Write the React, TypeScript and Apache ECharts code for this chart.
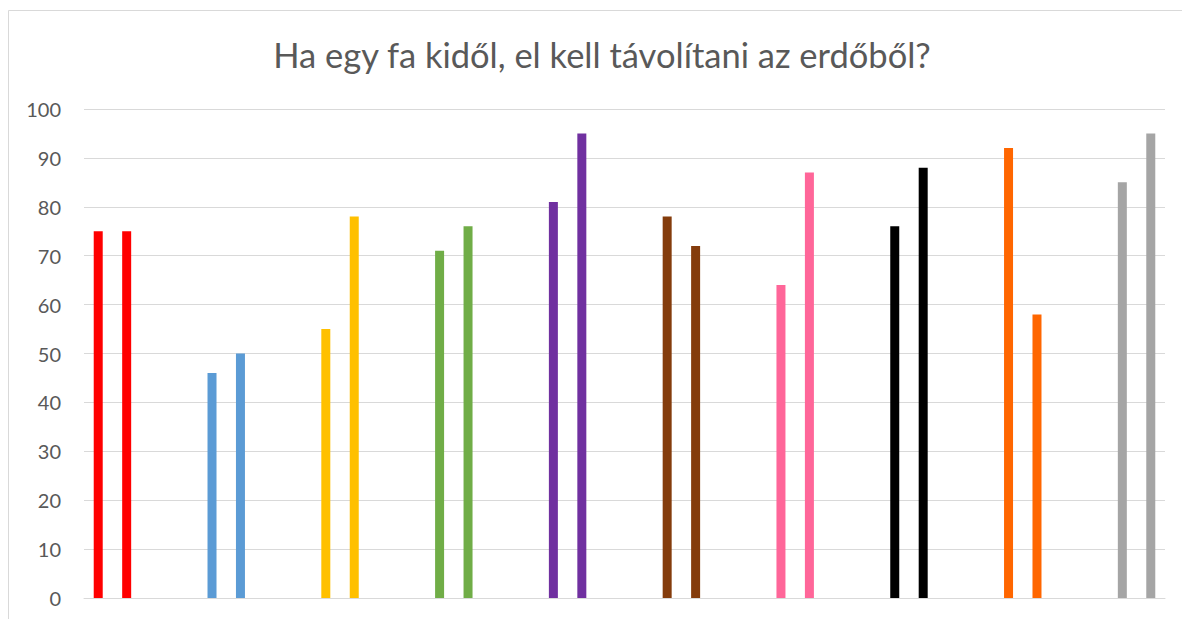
import React, { useEffect, useRef } from "react";
import * as echarts from "echarts";

const title = "Ha egy fa kidől, el kell távolítani az erdőből?";
const groupColors = ["#FF0000", "#5B9BD5", "#FFC000", "#70AD47", "#7030A0", "#843C0C", "#FF6699", "#000000", "#FF6600", "#A5A5A5"];
const firstValues = [75, 46, 55, 71, 81, 78, 64, 76, 92, 85];
const secondValues = [75, 50, 78, 76, 95, 72, 87, 88, 58, 95];
const yTicks = [0, 10, 20, 30, 40, 50, 60, 70, 80, 90, 100];

export default function App() {
  const ref = useRef<HTMLDivElement>(null);
  useEffect(() => {
    if (!ref.current) return;
    const chart = echarts.init(ref.current, undefined, { renderer: "svg" });
    // Excel layout: each group uses 4 slots (2 bars + 2 empty), last group without trailing blanks
    const slots: any[] = [];
    firstValues.forEach((v, i) => {
      slots.push({ value: v, itemStyle: { color: groupColors[i] } });
      slots.push({ value: secondValues[i], itemStyle: { color: groupColors[i] } });
      if (i < firstValues.length - 1) {
        slots.push(null);
        slots.push(null);
      }
    });
    const cats = slots.map((_, i) => String(i));
    chart.setOption({
      animation: false,
      backgroundColor: "#FFFFFF",
      graphic: [
        {
          type: "line",
          shape: { x1: 0.5, y1: 2.5, x2: 1174, y2: 2.5 },
          style: { stroke: "#D9D9D9", lineWidth: 1 },
          silent: true,
        },
        {
          type: "line",
          shape: { x1: 0.5, y1: 2.5, x2: 0.5, y2: 611 },
          style: { stroke: "#D9D9D9", lineWidth: 1 },
          silent: true,
        },
        {
          type: "text",
          x: 594,
          y: 46,
          style: {
            text: title,
            fill: "#595959",
            font: "34.5px Lato",
            textAlign: "center",
            textVerticalAlign: "middle",
          },
          silent: true,
        },
      ],
      grid: { left: 76, right: 17, top: 101, bottom: 21, containLabel: false },
      xAxis: {
        type: "category",
        data: cats,
        axisLine: { show: true, lineStyle: { color: "#D9D9D9", width: 1 } },
        axisTick: { show: false },
        axisLabel: { show: false },
        splitLine: { show: false },
      },
      yAxis: {
        type: "value",
        min: yTicks[0],
        max: yTicks[yTicks.length - 1],
        interval: 10,
        axisLine: { show: false },
        axisTick: { show: false },
        axisLabel: { color: "#595959", fontSize: 20, fontFamily: "Lato", margin: 23 },
        splitLine: { lineStyle: { color: "#D9D9D9", width: 1 } },
      },
      series: [
        {
          type: "bar",
          data: slots,
          barWidth: 9,
        },
      ],
    });
    return () => chart.dispose();
  }, []);
  return (
    <div
      ref={ref}
      style={{ position: "fixed", left: 8, top: 8, width: 1174, height: 611 }}
    />
  );
}
